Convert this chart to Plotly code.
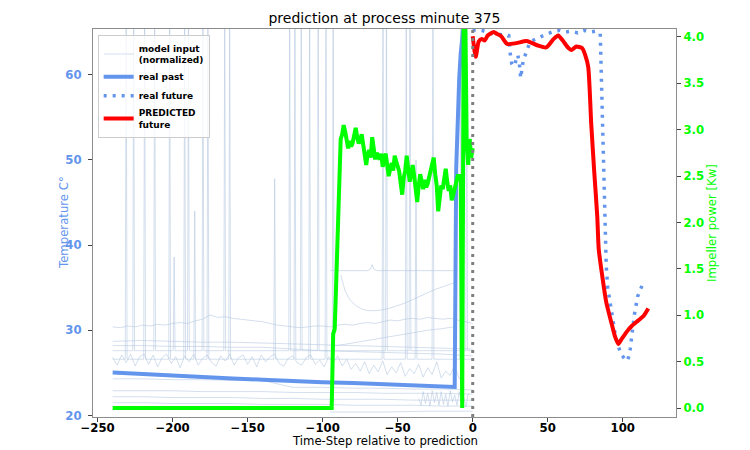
import numpy as np
import plotly.graph_objects as go

# ---------------- data ----------------
title_text = "prediction at process minute 375"
x_title = "Time-Step relative to prediction"
y_title = "Temperature C°"
y2_title = "Impeller power [Kw]"

x_ticks = [-250, -200, -150, -100, -50, 0, 50, 100]
y_ticks = [20, 30, 40, 50, 60]
y2_ticks = [0.0, 0.5, 1.0, 1.5, 2.0, 2.5, 3.0, 3.5, 4.0]

# real past (temperature)
past_x = [-240, -220, -200, -180, -160, -140, -120, -100, -80, -60, -40, -20, -12,
          -11, -10, -9, -8, -7, -6, -5, -1]
past_y = [25.05, 24.85, 24.7, 24.55, 24.35, 24.2, 24.0, 23.9, 23.8, 23.7, 23.6, 23.45, 23.35,
          49.0, 55.5, 59.5, 62.5, 64.8, 66.3, 67.5, 68.5]

# real future
future_x = [0, 3, 6, 9, 12, 15, 18, 21, 24,
            25, 26, 27, 28, 29, 30, 31, 32, 33, 34,
            36, 38, 42, 46, 50, 54, 58, 62, 66, 70, 74, 78, 82,
            85, 86, 87, 88, 89, 90, 91, 92, 93,
            95, 97, 99, 101, 103,
            104, 105, 106, 107, 108,
            110, 112, 113]
future_y = [65.2, 65.3, 65.2, 65.0, 64.9, 64.7, 64.7, 64.6, 64.6,
            62.5, 61.3, 61.0, 61.1, 61.8, 62.3, 61.5, 59.6, 61.0, 61.9,
            62.7, 63.8, 64.2, 64.5, 64.9, 65.1, 65.2, 65.0, 65.1, 64.9, 65.2, 65.0, 65.1,
            64.8, 58.0, 50.5, 42.0, 37.5, 35.0, 33.8, 32.6, 31.3,
            29.5, 28.1, 27.2, 26.7, 26.4,
            26.9, 27.8, 29.3, 30.7, 32.1,
            34.0, 34.9, 35.3]

# predicted future
pred_x = [0, 2, 4, 6, 8, 10, 14, 16, 19, 23,
          29, 36, 43, 49, 54, 57, 60, 64, 66, 69,
          73, 75, 77, 79, 81, 83, 84, 86, 89, 93,
          95, 97, 99, 103, 106, 110, 114, 117]
pred_y = [64.5, 62.1, 63.9, 64.2, 64.0, 64.6, 65.0, 64.8, 64.5, 63.6,
          63.7, 63.95, 63.45, 63.2, 64.2, 64.6, 64.0, 63.1, 62.9, 63.3,
          63.1, 62.3, 60.9, 54.2, 48.6, 43.4, 39.5, 36.8, 33.3, 30.5,
          29.2, 28.4, 28.9, 29.9, 30.5, 31.1, 31.7, 32.55]

# impeller power (right axis)
power_x = [-240, -94] + list(range(-93, 1))
power_y = [0.0, 0.0,
           0.80, 0.85, 1.35, 1.85, 2.35,
           2.90, 2.95, 3.05, 2.98, 2.85, 2.80, 2.88, 2.82, 2.86, 2.95,
           3.02, 2.92, 2.85, 2.90, 2.95, 2.84, 2.72, 2.62, 2.74, 2.78,
           2.70, 2.92, 2.80, 2.68, 2.75, 2.72, 2.68, 2.74, 2.60, 2.70,
           2.74, 2.62, 2.50, 2.58, 2.64, 2.56, 2.72, 2.66, 2.60, 2.55,
           2.42, 2.30, 2.48, 2.56, 2.72, 2.60, 2.44, 2.52, 2.62, 2.50,
           2.36, 2.22, 2.40, 2.52, 2.44, 2.36, 2.46, 2.38, 2.42, 2.50,
           2.56, 2.64, 2.70, 2.52, 2.40, 2.12, 2.28, 2.40, 2.36, 2.50,
           2.58, 2.44, 2.34, 2.40, 2.24, 2.30, 2.38, 2.46, 2.50, 2.50,
           2.50,
           0.00, 4.30, 4.30, 2.85, 2.62, 2.90, 2.70, 2.80]
assert len(power_x) == len(power_y)

# model inputs (normalized), each: (start, step, values)
mi_wavy = (-240, 5, [30.4, 30.3, 30.5, 30.4, 30.6, 30.5, 30.7, 30.6, 30.8, 30.9,
                     30.8, 31.1, 31.3, 31.8, 31.5, 31.6, 31.4, 31.3, 31.2, 31.1,
                     31.0, 30.8, 30.6, 30.5, 30.4, 30.3, 30.4, 30.5, 30.5, 30.4,
                     30.6, 30.7, 30.6, 30.8, 30.9, 30.8, 31.0, 31.2, 31.1, 31.3,
                     31.4, 31.3, 31.5, 31.4, 31.3, 31.4, 31.2, 31.0, 30.8])
mi_flat1 = (-240, 20, [28.7, 28.8, 28.7, 28.6, 28.6, 28.5, 28.4, 28.3, 28.2, 28.1, 28.0, 27.9, 27.8])
mi_flat2 = (-240, 20, [28.2, 28.2, 28.1, 28.1, 28.0, 28.0, 27.8, 27.6, 27.5, 27.4, 27.3, 27.2, 27.0])
mi_flat3 = (-240, 20, [22.9, 22.9, 22.9, 22.8, 22.8, 22.8, 22.7, 22.7, 22.7, 22.6, 22.6, 22.6, 22.5])
mi_flat4 = (-240, 20, [22.2, 22.2, 22.1, 22.1, 22.1, 22.0, 22.0, 21.9, 21.9, 21.9, 21.8, 21.8, 21.8])
mi_flat5 = (-240, 20, [21.5, 21.5, 21.4, 21.4, 21.4, 21.3, 21.3, 21.3, 21.2, 21.2, 21.2, 21.1, 21.1])
mi_flat6 = (-240, 20, [24.3, 24.3, 24.2, 24.2, 24.1, 24.1, 23.3, 23.3, 23.2, 23.2, 23.1, 23.1, 23.0])
mi_noisy = (-240, 3, [26.8, 25.9, 27.1, 26.2, 27.2, 25.8, 26.9, 27.2, 26.0, 27.1,
                      25.7, 26.8, 27.2, 26.1, 26.9, 25.6, 27.0, 26.3, 27.2, 25.9,
                      26.7, 27.1, 26.2, 25.8, 27.0, 26.4, 27.2, 25.9, 26.8, 27.1,
                      26.0, 26.9, 25.7, 27.1, 26.3, 26.9, 27.2, 26.1, 25.8, 26.7,
                      27.0, 26.2, 25.9, 26.8, 27.1, 26.0, 26.5, 25.7, 26.9, 26.2,
                      27.0, 25.8, 26.6, 25.4, 26.1, 25.2, 26.3, 24.9, 25.9, 25.1,
                      26.4, 24.8, 25.7, 25.0, 26.2, 24.6, 25.5, 24.9, 26.0, 24.5,
                      25.6, 24.8, 26.3, 24.4, 25.2, 24.7, 25.9, 24.3, 25.0])
mi_end_noise = (-36, 1.5, [22.0, 21.2, 22.8, 21.4, 22.6, 21.1, 22.9, 21.5, 22.7, 21.2,
                           22.8, 21.3, 22.5, 21.1, 22.9, 21.6, 22.4, 21.2, 22.8, 21.4,
                           22.2, 21.0, 22.6])
mi_curve_x = [-88, -85, -82, -78, -74, -70, -65, -60, -55, -50, -45, -40, -35, -30, -25, -20, -15, -12]
mi_curve_y = [36.5, 34.6, 33.6, 32.9, 32.5, 32.3, 32.3, 32.4, 32.6, 32.9, 33.2, 33.6, 34.0, 34.4, 34.8, 35.1, 35.4, 35.6]
mi_level_x = [-95, -70, -68, -67, -66, -64, -10]
mi_level_y = [37.0, 37.0, 37.2, 37.7, 37.2, 37.0, 37.0]
mi_rise_x = [-92, -80, -70, -60, -50, -40, -30, -20, -13]
mi_rise_y = [28.15, 28.5, 28.8, 29.1, 29.4, 29.7, 30.0, 30.2, 30.4]
mi_low_x = [-95, -60, -30, 0]
mi_low_y = [20.4, 20.4, 20.5, 20.5]

# spikes in model inputs: position, peak
spike_base_a = 26.6
spike_pos_a = [-231, -218.7, -202, -192, -185.3, -176.5, -162, -132, -118.5, -108.7, -97.8, -59.8, -44.3, -37.8, -26.5, -8]
spike_top_a = [70, 70, 70, 70, 44, 70, 70, 47.8, 70, 70, 70, 70, 70, 50, 70, 70]
spike_base_b = 27.6
spike_pos_b = [-226, -212, -199, -189.5, -179.8, -165.3, -122, -114.3, -103, -93, -57.5, -41.8, -4]
spike_top_b = [70, 70, 38.6, 66, 70, 70, 70, 70, 70, 70, 70, 70, 70]

# ---------------- styles ----------------
C_MI = 'rgba(176,196,222,0.55)'
C_BLUE = '#6495ED'
C_RED = '#FF0000'
C_GREEN = '#00FF00'
C_SPINE = '#8c8c8c'
FONT = 'DejaVu Sans'

fig = go.Figure()

bg = []
for start, step, vals in [mi_wavy, mi_flat1, mi_flat2, mi_flat3, mi_flat4, mi_flat5, mi_flat6, mi_noisy, mi_end_noise]:
    bg.append(([start + step * i for i in range(len(vals))], vals))
bg.append((mi_curve_x, mi_curve_y))
bg.append((mi_level_x, mi_level_y))
bg.append((mi_rise_x, mi_rise_y))
bg.append((mi_low_x, mi_low_y))
for base, pos, top in [(spike_base_a, spike_pos_a, spike_top_a), (spike_base_b, spike_pos_b, spike_top_b)]:
    sx, sy = [-240], [base]
    for p, t in zip(pos, top):
        sx += [p - 0.6, p, p + 0.6]
        sy += [base, t, base]
    sx.append(0)
    sy.append(base)
    bg.append((sx, sy))

for i, (xs, ys) in enumerate(bg):
    fig.add_trace(go.Scatter(x=xs, y=ys, mode='lines', line=dict(color=C_MI, width=1),
                             name='model input<br>(normalized)', legendgroup='mi',
                             showlegend=(i == 0), hoverinfo='skip'))

fig.add_trace(go.Scatter(x=past_x, y=past_y, mode='lines', name='real past',
                         line=dict(color=C_BLUE, width=4)))
fig.add_trace(go.Scatter(x=future_x, y=future_y, mode='lines', name='real future',
                         line=dict(color=C_BLUE, width=3.5, dash='3px,6px')))
fig.add_trace(go.Scatter(x=pred_x, y=pred_y, mode='lines', name='PREDICTED<br>future',
                         line=dict(color=C_RED, width=4, shape='spline', smoothing=0.6)))
fig.add_trace(go.Scatter(x=power_x, y=power_y, mode='lines', name='power', showlegend=False,
                         line=dict(color=C_GREEN, width=4), yaxis='y2'))

fig.add_vline(x=0, line=dict(color='#7f7f7f', width=3, dash='3px,5px'))

tickfont_common = dict(family=FONT, size=11.7, weight='bold')
T, B, L, R = 29, 33, 93, 74
ph = 450 - T - B

fig.update_layout(
    width=750, height=450,
    margin=dict(l=L, r=R, t=T, b=B),
    paper_bgcolor='white', plot_bgcolor='white',
    font=dict(family=FONT, color='black'),
    title=dict(text=title_text, x=(93 + 676) / 2 / 750, xanchor='center',
               y=1 - 18 / 450, yanchor='middle', font=dict(family=FONT, size=14, color='black')),
    legend=dict(x=0.008, y=0.985, xanchor='left', yanchor='top',
                bgcolor='rgba(255,255,255,0.8)', bordercolor='#cccccc', borderwidth=1,
                font=dict(family=FONT, size=9, weight='bold', color='black'),
                itemwidth=30, tracegroupgap=0),
    xaxis=dict(range=[-253.1, 135.5], tickvals=x_ticks, showgrid=False, zeroline=False,
               automargin=False, ticklabelstandoff=-4,
               showline=True, linecolor=C_SPINE, linewidth=1.2, mirror=True,
               ticks='outside', ticklen=4, tickcolor='#444',
               tickfont=dict(**tickfont_common, color='black')),
    yaxis=dict(range=[19.82, 65.36], tickvals=y_ticks, showgrid=False, zeroline=False,
               automargin=False, ticklabelstandoff=4,
               showline=True, linecolor=C_SPINE, linewidth=1.2,
               ticks='outside', ticklen=4, tickcolor='#444',
               tickfont=dict(**tickfont_common, color=C_BLUE)),
    yaxis2=dict(range=[-0.097, 4.086], tickvals=y2_ticks, tickformat='.1f', overlaying='y', side='right',
                automargin=False,
                showgrid=False, zeroline=False,
                showline=True, linecolor=C_SPINE, linewidth=1.2,
                ticks='outside', ticklen=4, tickcolor='#444',
                tickfont=dict(**tickfont_common, color=C_GREEN)),
    annotations=[
        dict(text=x_title, xref='paper', yref='paper', x=0.5, y=-(441 - (450 - B)) / ph,
             xanchor='center', yanchor='middle', showarrow=False,
             font=dict(family=FONT, size=11.7, color='black')),
        dict(text=y_title, xref='paper', yref='paper', x=-(L - 64) / (750 - L - R), y=0.5,
             xanchor='center', yanchor='middle', textangle=-90, showarrow=False,
             font=dict(family=FONT, size=11.7, color=C_BLUE)),
        dict(text=y2_title, xref='paper', yref='paper', x=1 + (712 - (750 - R)) / (750 - L - R), y=0.5,
             xanchor='center', yanchor='middle', textangle=-90, showarrow=False,
             font=dict(family=FONT, size=11.7, color=C_GREEN)),
    ],
)

fig.write_html("out.html")
